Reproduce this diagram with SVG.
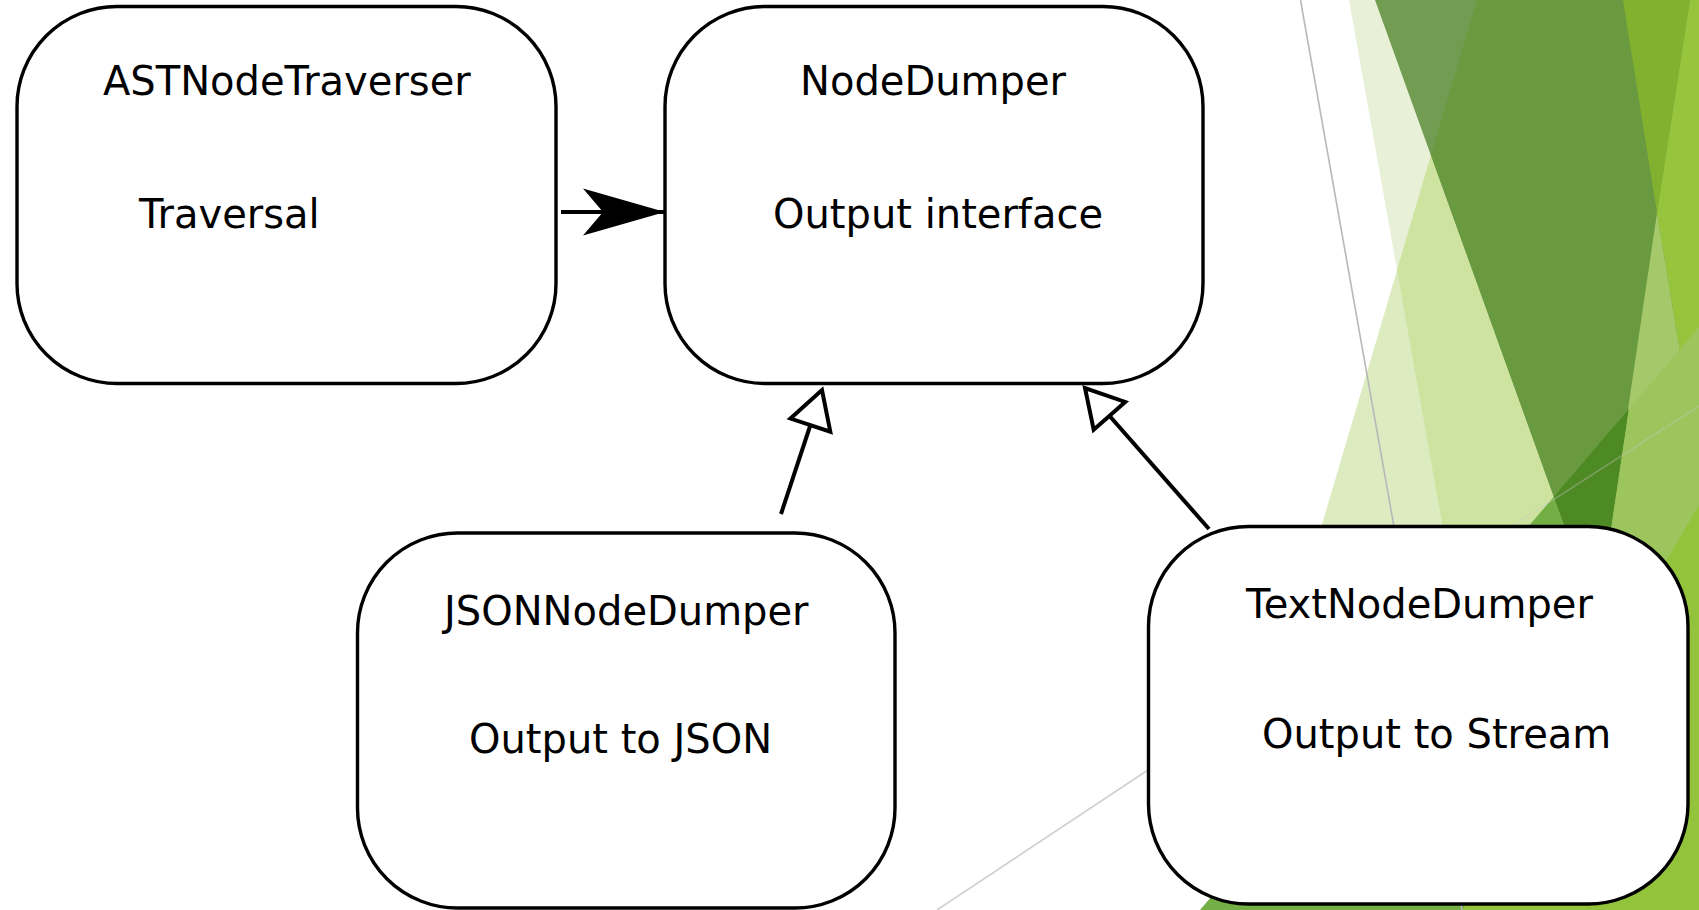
<svg xmlns="http://www.w3.org/2000/svg" width="1699" height="910" viewBox="0 0 1699 910">
  <style>
    .node rect { fill: #ffffff; stroke: #000000; stroke-width: 3.4; }
    .node text { font-family: "DejaVu Sans", Verdana, sans-serif; font-size: 40px; fill: #000000; }
    .edge { stroke: #000000; stroke-width: 4; fill: none; }
    .hair { fill: none; stroke-width: 1.6; }
  </style>
  <defs>
    <!-- hollow triangle head (generalisation) -->
    <marker id="hollow" markerUnits="userSpaceOnUse" viewBox="-4 -26 46 52" refX="37" refY="0" markerWidth="46" markerHeight="52" orient="auto" overflow="visible">
      <path d="M0,-21 L37,0 L0,21 Z" fill="#ffffff" stroke="#000000" stroke-width="4" stroke-linejoin="miter"/>
    </marker>
    <!-- filled concave head (association) -->
    <marker id="stealth" markerUnits="userSpaceOnUse" viewBox="0 -26 84 52" refX="82" refY="0" markerWidth="84" markerHeight="52" orient="auto" overflow="visible">
      <path d="M0,-23.5 L82,0 L0,23.5 L20,0 Z" fill="#000000"/>
    </marker>
  </defs>

  <!-- decorative facet backdrop on the right -->
  <g id="backdrop">
    <polygon points="1349,0 1699,0 1699,910 1511,910" fill="#E8F1D7"/>
    <polygon points="1477,0 1699,0 1699,910 1208,910" fill="#DCEBC0"/>
    <polygon points="1477,0 1699,0 1699,910 1511,910 1397,270" fill="#CFE3A0"/>
    <polygon points="1375,0 1699,0 1699,900" fill="#719C52"/>
    <polygon points="1477,0 1699,0 1699,900 1431,155" fill="#6A9A40"/>
    <polygon points="1623,0 1690,0 1657,213" fill="#82B12F"/>
    <polygon points="1690,0 1699,0 1699,466 1657,213" fill="#97C43D"/>
    <polygon points="1657,213 1699,466 1699,910 1554,910" fill="#A5C96A"/>
    <polygon points="1553.8,496.7 1699,900 1699,910 1200,910" fill="#73AF44"/>
    <polygon points="1553.8,496.7 1629,408.7 1598,619" fill="#4E8A24"/>
    <polygon points="1629,408.7 1699,327 1699,910 1554,910" fill="#9DC55E"/>
    <polygon points="1462,910 1699,505 1699,910" fill="#93C23B"/>
    <line class="hair" x1="1300.5" y1="0" x2="1462" y2="910" stroke="#B8B8B8"/>
    <line class="hair" x1="937" y1="910" x2="1160" y2="762" stroke="#CFCFCF"/>
    <line class="hair" x1="1500" y1="534" x2="1699" y2="406" stroke="#C8C8C8" stroke-opacity="0.35"/>
  </g>

  <g id="ASTNodeTraverser" class="node">
    <rect x="17" y="6.5" width="539" height="377" rx="100" ry="100"/>
    <text x="103" y="95">ASTNodeTraverser</text>
    <text x="139" y="228">Traversal</text>
  </g>

  <g id="NodeDumper" class="node">
    <rect x="665" y="6.5" width="538" height="377" rx="100" ry="100"/>
    <text x="800" y="95">NodeDumper</text>
    <text x="773" y="228">Output interface</text>
  </g>

  <g id="JSONNodeDumper" class="node">
    <rect x="357.5" y="533" width="537.5" height="375" rx="100" ry="100"/>
    <text x="444" y="625">JSONNodeDumper</text>
    <text x="469" y="753">Output to JSON</text>
  </g>

  <g id="TextNodeDumper" class="node">
    <rect x="1148.5" y="526.5" width="539.5" height="377.5" rx="100" ry="100"/>
    <text x="1246" y="618">TextNodeDumper</text>
    <text x="1262" y="748">Output to Stream</text>
  </g>

  <g id="connectors">
    <line class="edge" x1="561" y1="212" x2="665" y2="212" marker-end="url(#stealth)"/>
    <line class="edge" x1="781" y1="514" x2="822" y2="390" marker-end="url(#hollow)"/>
    <line class="edge" x1="1209" y1="529" x2="1085" y2="388" marker-end="url(#hollow)"/>
  </g>
</svg>
